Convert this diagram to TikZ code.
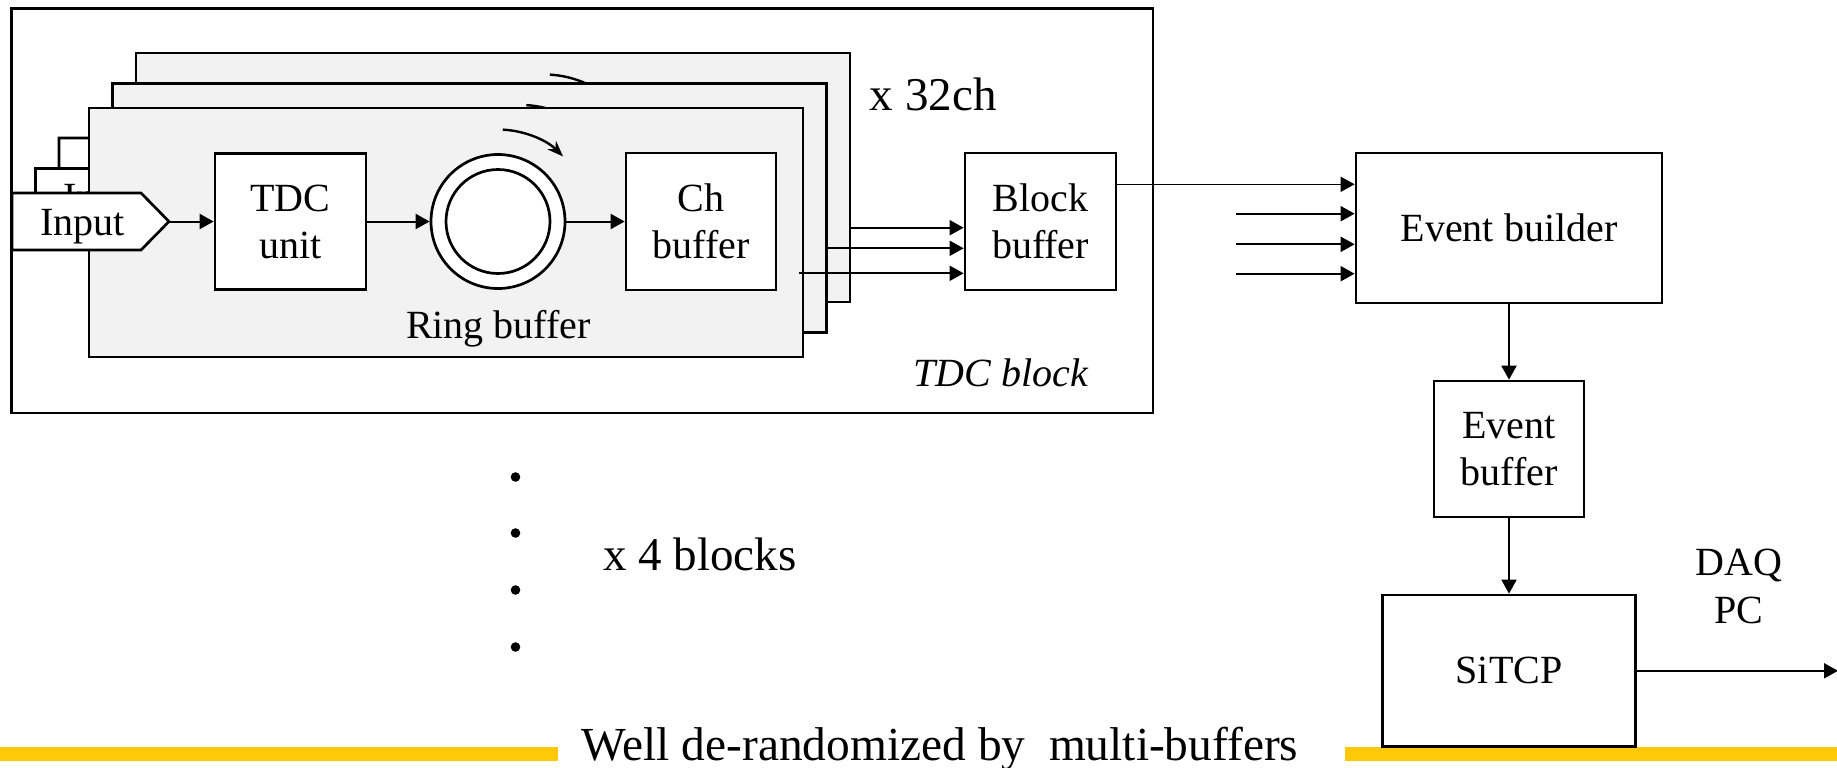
\documentclass[tikz,border=0pt]{standalone}
\usepackage{fontspec}
\setmainfont{Liberation Serif}
\usetikzlibrary{arrows.meta,calc}
\definecolor{cardgrey}{RGB}{242,242,242}
\definecolor{baryellow}{RGB}{255,201,10}

\tikzset{
  box/.style={draw, line width=1.35pt, fill=white, inner sep=0pt, align=center,
    font=\fontsize{20}{23.5}\selectfont},
  frame/.style={draw, line width=1.35pt, fill=white, inner sep=0pt},
  card/.style={draw, line width=1.35pt, fill=cardgrey, inner sep=0pt},
  inshape/.style={draw, line width=1.35pt, fill=white, line join=miter},
  ringouter/.style={circle, draw, line width=1.35pt, fill=white, inner sep=0pt},
  ringinner/.style={circle, draw, line width=1.35pt, inner sep=0pt},
  flow/.style={line width=1pt, -{Triangle[length=7pt,width=7.5pt]}},
  thinflow/.style={line width=0.75pt, -{Triangle[length=7pt,width=7.5pt]}},
  spin/.style={line width=1.2pt, -{Stealth[length=8pt,width=6pt]}},
  lbl/.style={font=\fontsize{20}{24}\selectfont, inner sep=0pt},
  biglbl/.style={font=\fontsize{23.5}{28}\selectfont, inner sep=0pt},
}

\begin{document}
\begin{tikzpicture}[x=0.5pt, y=0.5pt]
\useasboundingbox (0,0) rectangle (1837,-767);

% yellow rule at the foot of the page
\fill[baryellow] (0,-746.5) rectangle (558,-761);
\fill[baryellow] (1345,-746.5) rectangle (1837,-761);

% TDC block frame
\node[frame, minimum width=570.65pt, minimum height=202.4pt] (tdcblock) at (582.35,-210.6) {};

% channel cards stacked behind the front one (only their exposed edges show)
\foreach \i/\dx/\dy in {2/47/55, 1/23.5/24.5}{
  \begin{scope}[shift={(\dx,\dy)}]
    \node[card, minimum width=357pt, minimum height=124.5pt] (card\i) at (446,-232.5) {};
    \draw[inshape] (12,-193) -- (141,-193) -- (169,-221.5) -- (141,-250) -- (12,-250) -- cycle;
    \node[lbl, anchor=base] (input\i) at (82.3,-235) {Input};
    \coordinate (ringc\i) at (498,-221.5);
    \draw[spin] ($(ringc\i)+(87:46pt)$) arc[start angle=87, end angle=45, radius=46pt];
  \end{scope}
}

% front channel card
\node[card, minimum width=357pt, minimum height=124.5pt] (card0) at (446,-232.5) {};
\draw[inshape] (12,-193) -- (141,-193) -- (169,-221.5) -- (141,-250) -- (12,-250) -- cycle;
\coordinate (intip0) at (169,-221.5);
\node[lbl, anchor=base] (input0) at (82.3,-235) {Input};
\node[box, minimum width=75.5pt, minimum height=68pt] (tdc0) at (290.5,-221.5) {TDC\\unit};
\node[ringouter, minimum size=67pt] (ring0) at (498,-221.5) {};
\node[ringinner, minimum size=52pt] (ringin0) at (ring0.center) {};
\node[box, minimum width=75pt, minimum height=68.5pt] (ch0) at (701,-221.5) {Ch\\buffer};
\draw[flow] (intip0) -- (tdc0.west);
\draw[flow] (tdc0.east) -- (ring0.west);
\draw[flow] (ring0.east) -- (ch0.west);
\draw[spin] ($(ring0.center)+(87:46pt)$) arc[start angle=87, end angle=45, radius=46pt];
\node[lbl, anchor=base] (ringlbl0) at (498.5,-338.3) {Ring buffer};

\node[biglbl, anchor=base west] (nch) at (869.5,-110) {x 32ch};
\node[lbl, anchor=base west, font=\fontsize{20}{24}\selectfont\itshape] (blocklbl) at (913,-386.7) {TDC block};

% block buffer and channel outputs
\node[box, minimum width=75.5pt, minimum height=68.5pt] (blockbuf) at (1040.5,-221.5) {Block\\buffer};
\coordinate (out0) at (799,-273.3);
\coordinate (out1) at (827,-248.3);
\coordinate (out2) at (851,-227.7);
\foreach \k in {0,1,2}{
  \draw[flow] (out\k) -- (out\k -| blockbuf.west);
}

% event building chain
\node[box, minimum width=153pt, minimum height=75pt] (evb) at (1509,-228) {Event builder};
\node[box, minimum width=75pt, minimum height=68pt] (evbuf) at (1509,-449) {Event\\buffer};
\node[box, minimum width=126.75pt, minimum height=75.8pt] (sitcp) at (1509,-670.8) {SiTCP};

\coordinate (bbout) at ($(blockbuf.east)+(0,37.2)$);
\draw[thinflow] (bbout) -- (bbout -| evb.west);
\coordinate (feed1) at (1235.5,-213.7);
\coordinate (feed2) at (1235.5,-244.3);
\coordinate (feed3) at (1235.5,-273.7);
\foreach \k in {1,2,3}{
  \draw[flow] (feed\k) -- (feed\k -| evb.west);
}
\draw[flow] (evb.south) -- (evbuf.north);
\draw[flow] (evbuf.south) -- (sitcp.north);
\coordinate (pcend) at (1838,-670.8);
\draw[flow] (sitcp.east) -- (pcend);
\node[lbl, anchor=base] (daq) at (1739,-575) {DAQ};
\node[lbl, anchor=base] (pc) at (1739,-623) {PC};

% further TDC blocks
\foreach \yy in {477,533,590,647}{
  \fill (515.5,-\yy) circle[radius=2.4pt];
}
\node[biglbl, anchor=base west] (nblocks) at (602.7,-570.7) {x 4 blocks};

\node[biglbl, anchor=base, font=\fontsize{23.7}{28}\selectfont] (caption) at (940,-760) {Well de-randomized by\ \ multi-buffers};
\end{tikzpicture}
\end{document}
